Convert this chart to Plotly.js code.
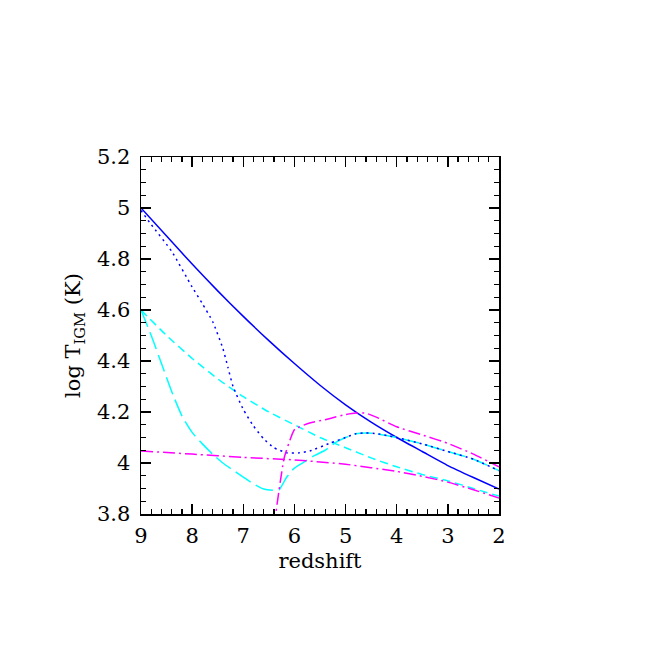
<!DOCTYPE html>
<html>
<head>
<meta charset="utf-8">
<script src="https://cdn.plot.ly/plotly-3.0.1.min.js"></script>
<style>
  body { margin: 0; background: #fff; }
  #chart { width: 654px; height: 654px; }
</style>
</head>
<body>
<div id="chart"></div>
<script>
// blue solid
const solidZ = [9, 8.5, 8, 7.5, 7, 6.5, 6, 5.5, 5, 4.5, 4, 3.5, 3, 2.5, 2];
const solidT = [5.0, 4.89, 4.78, 4.675, 4.575, 4.48, 4.39, 4.305, 4.228, 4.16, 4.10, 4.045, 3.99, 3.943, 3.898];

// blue dotted
const dotZ = [9, 8.8, 8.4, 8.0, 7.8, 7.6, 7.4, 7.3, 7.2, 7.0, 6.8, 6.6, 6.4, 6.15, 5.9, 5.7, 5.3, 5.0, 4.8, 4.6, 4.4, 4.2, 4, 3.5, 3, 2.5, 2];
const dotT = [4.99, 4.935, 4.83, 4.69, 4.625, 4.555, 4.45, 4.375, 4.30, 4.21, 4.145, 4.095, 4.06, 4.04, 4.04, 4.047, 4.078, 4.10, 4.115, 4.118, 4.115, 4.108, 4.10, 4.075, 4.045, 4.015, 3.97];

// cyan short dash
const dashZ = [9, 8.5, 8, 7.5, 7, 6.5, 6, 5.5, 5, 4.5, 4, 3.5, 3, 2.5, 2];
const dashT = [4.60, 4.50, 4.41, 4.33, 4.26, 4.20, 4.15, 4.10, 4.06, 4.02, 3.985, 3.955, 3.93, 3.90, 3.87];

// cyan long dash
const longZ = [9, 8.8, 8.6, 8.4, 8.2, 8.0, 7.8, 7.6, 7.4, 7.2, 7, 6.8, 6.6, 6.4, 6.3, 6.15, 6.0, 5.8, 5.6, 5.4, 5.2, 5.0, 4.8, 4.6, 4.4, 4.2, 4, 3.5, 3, 2.5, 2];
const longT = [4.60, 4.50, 4.39, 4.28, 4.185, 4.12, 4.075, 4.035, 4.00, 3.972, 3.945, 3.918, 3.898, 3.893, 3.895, 3.945, 3.98, 4.005, 4.03, 4.05, 4.08, 4.10, 4.115, 4.118, 4.115, 4.108, 4.10, 4.075, 4.045, 4.015, 3.97];

// magenta dash-dot, lower
const mlowZ = [9, 8, 7, 6, 5, 4, 3.5, 3, 2.5, 2];
const mlowT = [4.047, 4.035, 4.022, 4.012, 3.995, 3.967, 3.948, 3.925, 3.895, 3.863];

// magenta dash-dot, upper
const mupZ = [6.4, 6.2, 6.05, 5.99, 5.7, 5.4, 5.2, 5.0, 4.8, 4.6, 4.4, 4.0, 3.5, 3, 2.5, 2.2, 2];
const mupT = [3.75, 4.02, 4.11, 4.133, 4.157, 4.17, 4.18, 4.19, 4.196, 4.195, 4.18, 4.142, 4.11, 4.077, 4.035, 4.005, 3.985];

const yTicks = [3.8, 4, 4.2, 4.4, 4.6, 4.8, 5, 5.2];
const yTickText = ['3.8', '4', '4.2', '4.4', '4.6', '4.8', '5', '5.2'];
const xTicks = [9, 8, 7, 6, 5, 4, 3, 2];

const font = { family: 'DejaVu Serif, serif', size: 21, color: '#000' };

function line(x, y, color, dash) {
    return {
        x: x, y: y,
        type: 'scatter',
        mode: 'lines',
        line: { color: color, width: 1.5, dash: dash, shape: 'spline', smoothing: 0.5 },
        hoverinfo: 'skip'
    };
}

const traces = [
    line(solidZ, solidT, '#0000ff', 'solid'),
    line(dashZ, dashT, '#00ffff', '8px,5px'),
    line(longZ, longT, '#00ffff', '18px,6px'),
    line(dotZ, dotT, '#0000ff', '2px,4px'),
    line(mlowZ, mlowT, '#ff00ff', '12px,4px,2px,4px'),
    line(mupZ, mupT, '#ff00ff', '12px,4px,2px,4px')
];

const axisCommon = {
    showgrid: false,
    zeroline: false,
    showline: true,
    linecolor: '#000',
    linewidth: 1.5,
    mirror: 'ticks',
    ticks: 'inside',
    ticklen: 10,
    tickwidth: 1.5,
    tickcolor: '#000',
    tickfont: font
};

const layout = {
    width: 654,
    height: 654,
    showlegend: false,
    plot_bgcolor: '#fff',
    paper_bgcolor: '#fff',
    margin: { l: 141, r: 155, t: 157, b: 140 },
    xaxis: Object.assign({}, axisCommon, {
        range: [9, 2],
        tickvals: xTicks,
        ticktext: xTicks.map(String),
        ticklabelstandoff: 2,
        minor: { dtick: 0.2, ticklen: 5, tickwidth: 1.2, tickcolor: '#000', ticks: 'inside' },
        title: { text: 'redshift', font: font, standoff: 6 }
    }),
    yaxis: Object.assign({}, axisCommon, {
        range: [3.8, 5.2],
        tickvals: yTicks,
        ticktext: yTickText,
        ticklabelstandoff: 5,
        minor: { dtick: 0.05, ticklen: 5, tickwidth: 1.2, tickcolor: '#000', ticks: 'inside' },
        title: { text: 'log T<sub>IGM</sub> (K)', font: font, standoff: 10 }
    })
};

Plotly.newPlot('chart', traces, layout, { displayModeBar: false, staticPlot: true });
</script>
</body>
</html>
